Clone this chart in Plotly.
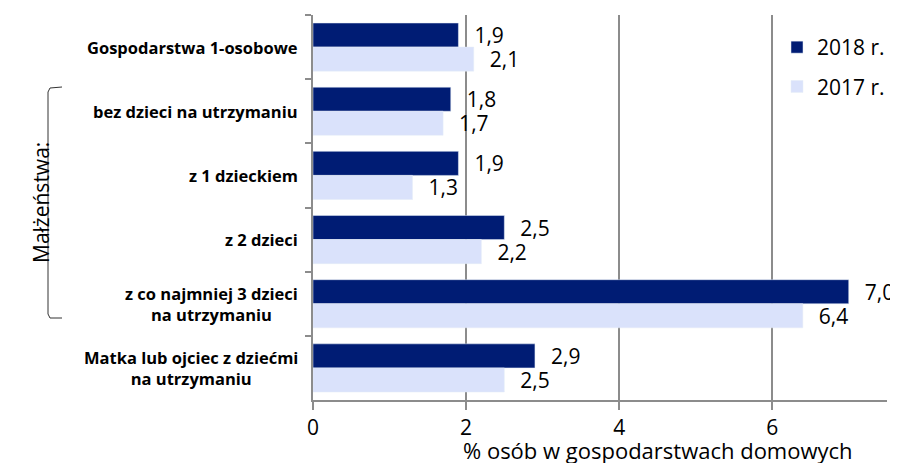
import plotly.graph_objects as go

categories = ["Gospodarstwa 1-osobowe", "bez dzieci na utrzymaniu", "z 1 dzieckiem",
              "z 2 dzieci", "z co najmniej 3 dzieci<br>na utrzymaniu",
              "Matka lub ojciec z dziećmi<br>na utrzymaniu"]
values_2018 = [1.9, 1.8, 1.9, 2.5, 7.0, 2.9]
values_2017 = [2.1, 1.7, 1.3, 2.2, 6.4, 2.5]
x_ticks = [0, 2, 4, 6]

DARK = "#001c74"
LIGHT = "#dae2fb"
FONT = "Open Sans"

# page has an 8px body margin; work in page coordinates and convert
OFF = 8
W, H = 898 - OFF, 463 - OFF
ML, MR, MT, MB = 313 - OFF, 11, 15 - OFF, 63
pw, ph = W - ML - MR, H - MT - MB
def px(xp): return (xp - OFF - ML) / pw
def py(yp): return (H - MB - (yp - OFF)) / ph

def fmt(vals):
    return ["  \u200a" + f"{v:.1f}".replace(".", ",") for v in vals]

fig = go.Figure()
fig.add_trace(go.Bar(y=categories, x=values_2018, orientation="h", name="2018 r.",
                     legendgroup="a", constraintext="none",
                     marker_color=DARK, text=fmt(values_2018), textposition="outside",
                     textfont=dict(size=21, color="black", family=FONT), cliponaxis=False))
fig.add_trace(go.Bar(y=categories, x=values_2017, orientation="h", name="2017 r.",
                     legendgroup="b", constraintext="none",
                     marker_color=LIGHT, text=fmt(values_2017), textposition="outside",
                     textfont=dict(size=21, color="black", family=FONT), cliponaxis=False))

for c in categories:
    fig.add_annotation(x=0, xref="paper", xshift=-13, y=c, yref="y", text=f"<b>{c}</b>",
                       xanchor="right", align="center", showarrow=False,
                       font=dict(size=16.5, family=FONT, color="black"))

fig.add_annotation(x=px(25), y=py(203), xref="paper", yref="paper", text="Małżeństwa:",
                   textangle=-90, showarrow=False,
                   font=dict(size=21, family=FONT, color="black"))
fig.add_annotation(x=px(658), y=py(450), xref="paper", yref="paper",
                   text="% osób w gospodarstwach domowych", showarrow=False,
                   xanchor="center", yanchor="middle",
                   font=dict(size=22, family=FONT, color="black"))

fig.update_layout(
    width=W, height=H,
    margin=dict(l=ML, r=MR, t=MT, b=MB, autoexpand=False),
    plot_bgcolor="white", paper_bgcolor="white",
    barmode="group", bargap=0.25, bargroupgap=0,
    showlegend=True,
    legend=dict(x=px(777), y=py(27), xanchor="left", yanchor="top",
                font=dict(size=21, family=FONT, color="black"),
                tracegroupgap=9, itemwidth=30, bgcolor="rgba(0,0,0,0)"),
    font=dict(family=FONT),
)
fig.update_xaxes(range=[0, 7.5], tickvals=x_ticks, ticktext=[str(t) for t in x_ticks],
                 automargin=False,
                 showgrid=True, gridcolor="#8c8c8c", gridwidth=1.5, zeroline=False,
                 showline=True, linecolor="#8c8c8c", linewidth=1.5,
                 ticks="outside", ticklen=8, tickcolor="#8c8c8c", tickwidth=1.5,
                 tickfont=dict(size=21, family=FONT, color="black"))
fig.update_yaxes(autorange="reversed", showticklabels=False, tickson="boundaries",
                 automargin=False,
                 ticks="outside", ticklen=6, tickcolor="#8c8c8c", tickwidth=1.5,
                 showline=True, linecolor="#8c8c8c", linewidth=1.5, showgrid=False)

fig.add_shape(type="path", xref="paper", yref="paper",
              path=f"M {px(62)} {py(87)} L {px(50)} {py(88)} L {px(48)} {py(92)} L {px(48)} {py(314)} L {px(50)} {py(318)} L {px(62)} {py(318)}",
              line=dict(color="#333333", width=1))

fig.write_html("out.html")
